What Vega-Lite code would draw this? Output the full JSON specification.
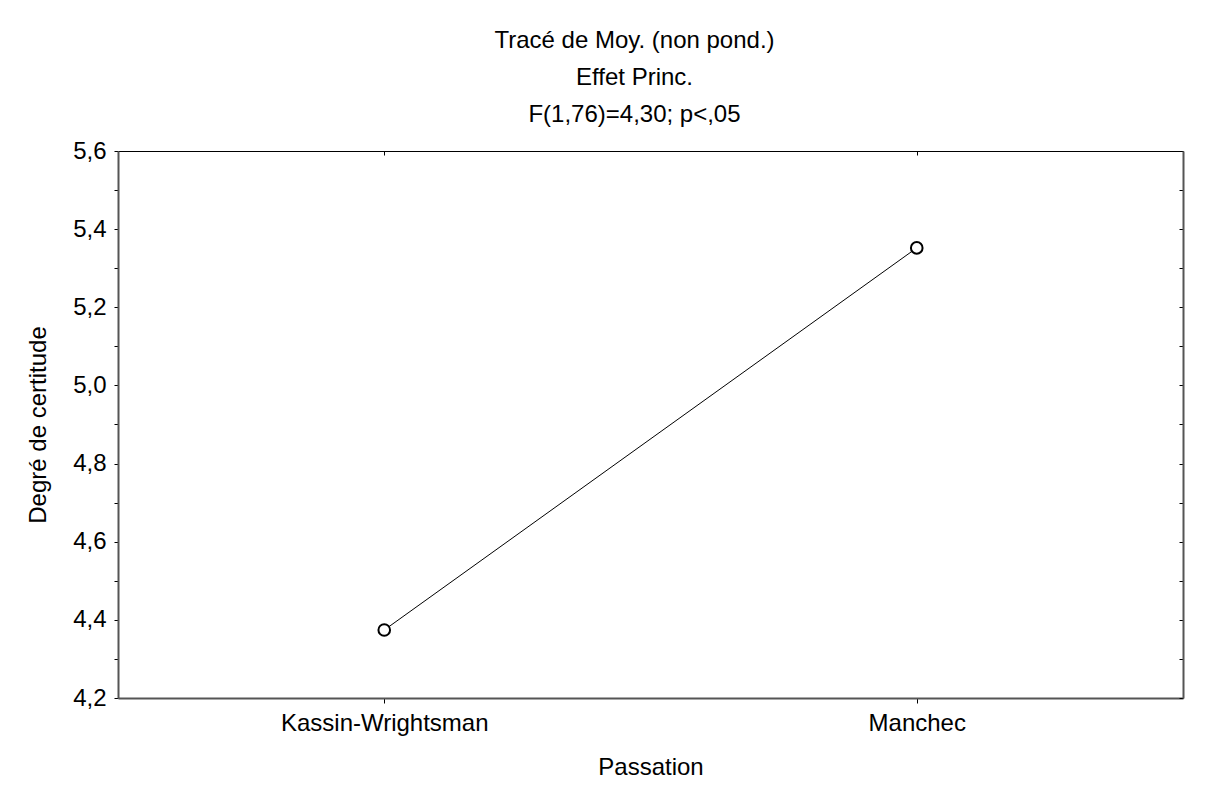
{
  "$schema": "https://vega.github.io/schema/vega-lite/v6.json",
  "autosize": "none",
  "width": 1065,
  "height": 547,
  "padding": {"left": 118, "top": 151, "right": 35, "bottom": 93},
  "background": "white",
  "title": {
    "text": ["Tracé de Moy. (non pond.)", "Effet Princ.", "F(1,76)=4,30; p<,05"],
    "font": "Liberation Sans",
    "fontSize": 24,
    "fontWeight": "normal",
    "color": "black",
    "lineHeight": 37,
    "anchor": "middle",
    "offset": 12,
    "dx": -16
  },
  "data": {
    "values": [
      {"Passation": "Kassin-Wrightsman", "Degre": 4.374},
      {"Passation": "Manchec", "Degre": 5.352}
    ]
  },
  "config": {
    "view": {"stroke": null},
    "axis": {
      "labelFont": "Liberation Sans",
      "titleFont": "Liberation Sans",
      "labelFontSize": 24,
      "titleFontSize": 24,
      "titleFontWeight": "normal",
      "labelColor": "black",
      "titleColor": "black",
      "tickColor": "black",
      "labelLimit": 0,
      "grid": false
    }
  },
  "resolve": {"axis": {"x": "independent", "y": "independent"}},
  "layer": [
    {
      "mark": {"type": "line", "color": "black", "strokeWidth": 1},
      "encoding": {
        "x": {
          "field": "Passation", "type": "ordinal",
          "scale": {"type": "point", "padding": 0.5},
          "axis": {
            "orient": "bottom", "title": "Passation", "labelAngle": 0,
            "tickSize": 5, "labelPadding": 8, "titlePadding": 20,
            "domainColor": "#555555", "domainWidth": 2
          }
        },
        "y": {
          "field": "Degre", "type": "quantitative",
          "scale": {"domain": [4.2, 5.6], "nice": false, "zero": false},
          "axis": {
            "orient": "left", "title": "Degré de certitude",
            "values": [4.2, 4.3, 4.4, 4.5, 4.6, 4.7, 4.8, 4.9, 5.0, 5.1, 5.2, 5.3, 5.4, 5.5, 5.6],
            "labelExpr": "abs(datum.value*10 - round(datum.value*10)) < 0.01 && round(datum.value*10) % 2 == 0 ? replace(format(datum.value, '.1f'), '.', ',') : ''",
            "tickSize": 4, "labelPadding": 8, "titlePadding": 22,
            "labelFlush": false, "labelOverlap": false,
            "domainColor": "#555555", "domainWidth": 2
          }
        }
      }
    },
    {
      "mark": {"type": "point", "shape": "circle", "filled": false, "fill": "white", "fillOpacity": 1, "stroke": "black", "strokeWidth": 2, "size": 135, "opacity": 1},
      "encoding": {
        "x": {
          "field": "Passation", "type": "ordinal",
          "scale": {"type": "point", "padding": 0.5},
          "axis": {
            "orient": "top", "title": null, "labels": false,
            "tickSize": -4, "domainColor": "black", "domainWidth": 1
          }
        },
        "y": {
          "field": "Degre", "type": "quantitative",
          "scale": {"domain": [4.2, 5.6], "nice": false, "zero": false},
          "axis": {
            "orient": "right", "title": null, "labels": false,
            "values": [4.2, 4.3, 4.4, 4.5, 4.6, 4.7, 4.8, 4.9, 5.0, 5.1, 5.2, 5.3, 5.4, 5.5, 5.6],
            "tickSize": -4, "domainColor": "#555555", "domainWidth": 2
          }
        }
      }
    }
  ]
}
